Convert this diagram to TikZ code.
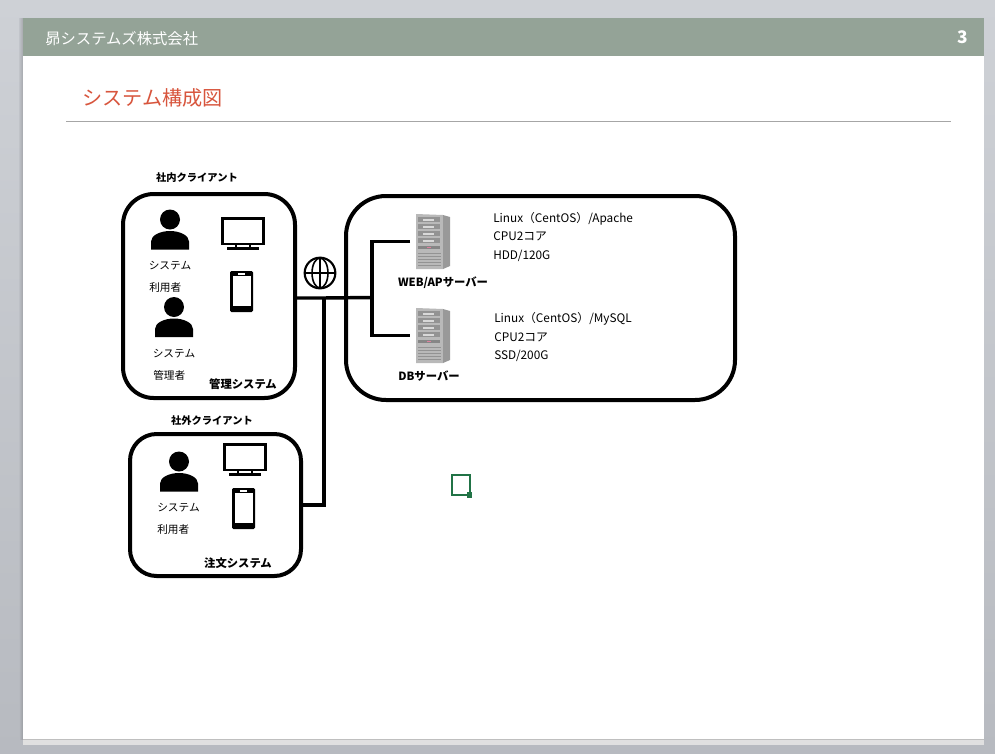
\documentclass[tikz,border=0pt]{standalone}
\usepackage{fontspec}
\setmainfont{Noto Sans CJK JP}
\usepackage{tikz}
\usetikzlibrary{positioning}
\definecolor{headgreen}{HTML}{94A397}
\definecolor{titlered}{HTML}{D8553D}
\definecolor{cursorgreen}{HTML}{217346}
\definecolor{deskhigh}{HTML}{CED1D6}
\definecolor{desklow}{HTML}{B7BAC0}
\begin{document}
\begin{tikzpicture}[x=.75pt, y=-.75pt,
  panel/.style={draw, line width=3pt, inner sep=0pt},
  wire/.style={line width=2.6pt},
  small/.style={inner sep=0pt, font=\fontsize{8}{9}\selectfont},
  strong/.style={inner sep=0pt, font=\fontsize{7.7}{9}\selectfont\bfseries},
  bigstrong/.style={inner sep=0pt, font=\fontsize{8.5}{9}\selectfont\bfseries},
  spec/.style={inner sep=0pt, anchor=west, align=left, font=\fontsize{8.85}{13.9}\selectfont},
  rack/.style={minimum width=25.5pt, minimum height=41.25pt, inner sep=0pt, outer sep=4.5pt},
  person/.pic={
    \fill (19,10) circle (10);
    \fill (0,40) -- (0,32) .. controls (0,26) and (9,21.5) .. (19,21.5)
      .. controls (29,21.5) and (38,26) .. (38,32) -- (38,40) -- cycle;
  },
  screen/.pic={
    \draw[line width=2.1pt] (1.5,1.5) rectangle (42.5,27);
    \draw[line width=1.6pt] (15,27) -- (15,31) (29,27) -- (29,31);
    \draw[line width=1.6pt] (6,31.5) -- (38,31.5);
  },
  mobile/.pic={
    \fill[rounded corners=1pt] (0,0) rectangle (23,41);
    \fill[white] (2.5,5) rectangle (20.5,35);
    \fill[white] (8,2) rectangle (15,3.5);
  },
  server/.pic={
    \fill[gray!55] (0,0) -- (27,1) -- (27,55) -- (0,55) -- cycle;
    \fill[gray!80] (27,1) -- (34,3) -- (34,52) -- (27,55) -- cycle;
    \foreach \r in {3,10,17,24} {
      \fill[gray!85] (2,\r) rectangle (24,\r+5);
      \fill[gray!30] (7,\r+1.5) rectangle (18,\r+3.5);
    }
    \fill[gray!95] (2,32) rectangle (24,35);
    \fill[purple!50] (11,33) rectangle (15,34);
    \foreach \r in {39,42,45,48,51}
      \draw[gray!85, line width=.6pt] (2,\r) -- (25,\r);
  }]
% Slide
\shade[top color=deskhigh, bottom color=desklow] (0,0) rectangle (995,753);
\shade[left color=desklow!100!black, right color=desklow!70!black, opacity=.5] (19,18) rectangle (23,739);
\fill[white!88!black] (23,739) rectangle (984,745);
\fill[white] (23,18) rectangle (984,739);
\fill[black!25] (23,739) rectangle (984,740);
\fill[headgreen] (23,18) rectangle (984,56);
\node[inner sep=0pt, anchor=west, white, font=\fontsize{11.5}{13}\selectfont] (company) at (45,39) {昴システムズ株式会社};
\node[inner sep=0pt, white, font=\fontsize{13}{15}\selectfont\bfseries] (page) at (963,37) {3};
\node[inner sep=0pt, anchor=west, titlered, font=\fontsize{15.1}{18}\selectfont] (title) at (82,98) {システム構成図};
\draw[black!35, line width=.6pt] (66,121) -- (951,121);
% Clients
\node[panel, rounded corners=23pt, minimum width=129pt, minimum height=153pt] (inbox) at (209,296) {};
\node[strong] (inlabel) at (197,178) {社内クライアント};
\pic at (151,209.5) {person};
\pic at (155,297) {person};
\pic at (221,217) {screen};
\pic at (230,271) {mobile};
\node[small] (useA) at (170,266) {システム};
\node[small, anchor=west] (roleA) at (149,287) {利用者};
\node[small] (useB) at (174,354) {システム};
\node[small, anchor=west] (roleB) at (153,375) {管理者};
\node[bigstrong] (inname) at (243,384) {管理システム};
\node[panel, rounded corners=20pt, minimum width=128.25pt, minimum height=106.5pt] (outbox) at (215.5,505) {};
\node[strong] (outlabel) at (212,421) {社外クライアント};
\pic at (160,451.5) {person};
\pic at (223,443) {screen};
\pic at (232,488) {mobile};
\node[small] (useC) at (178.5,508) {システム};
\node[small, anchor=west] (roleC) at (157,529) {利用者};
\node[bigstrong] (outname) at (238,563) {注文システム};
% Servers
\node[panel, rounded corners=30pt, minimum width=291.75pt, minimum height=153pt] (srvbox) at (540.5,298) {};
\node[rack] (web) at (433,241.5) {};
\node[rack] (db) at (433,335.5) {};
\pic at (416,214) {server};
\pic at (416,308) {server};
\node[bigstrong] (weblabel) at (443,283) {WEB/APサーバー};
\node[bigstrong] (dblabel) at (429,376) {DBサーバー};
\node[spec] (webspec) at (493,237) {Linux（CentOS）/Apache\\CPU2コア\\HDD/120G};
\node[spec] (dbspec) at (494,337) {Linux（CentOS）/MySQL\\CPU2コア\\SSD/200G};
% Network
\node[draw, circle, line width=1.6pt, minimum size=23pt, inner sep=0pt] (net) at (320,273) {};
\draw[line width=1.2pt] (net.north) -- (net.south);
\draw[line width=1.2pt] (net.west) -- (net.east);
\draw[line width=1.2pt] (net.center) ellipse (8 and 15);
\coordinate (tee) at (324,298);
\coordinate (hub) at (372,297.5);
\draw[wire] (inbox.east |- tee) -- (tee) -- (hub);
\draw[wire] (tee) |- (outbox.east);
\draw[wire] (web.west) -| (hub) |- (db.west);
% Cell marker
\node[draw=cursorgreen, line width=1.5pt, minimum width=13.5pt, minimum height=15.5pt, inner sep=0pt] (cell) at (461,485) {};
\node[fill=cursorgreen, minimum size=4pt, inner sep=0pt, anchor=center] (grip) at ([xshift=-1pt,yshift=1pt]cell.south east) {};
\end{tikzpicture}
\end{document}
